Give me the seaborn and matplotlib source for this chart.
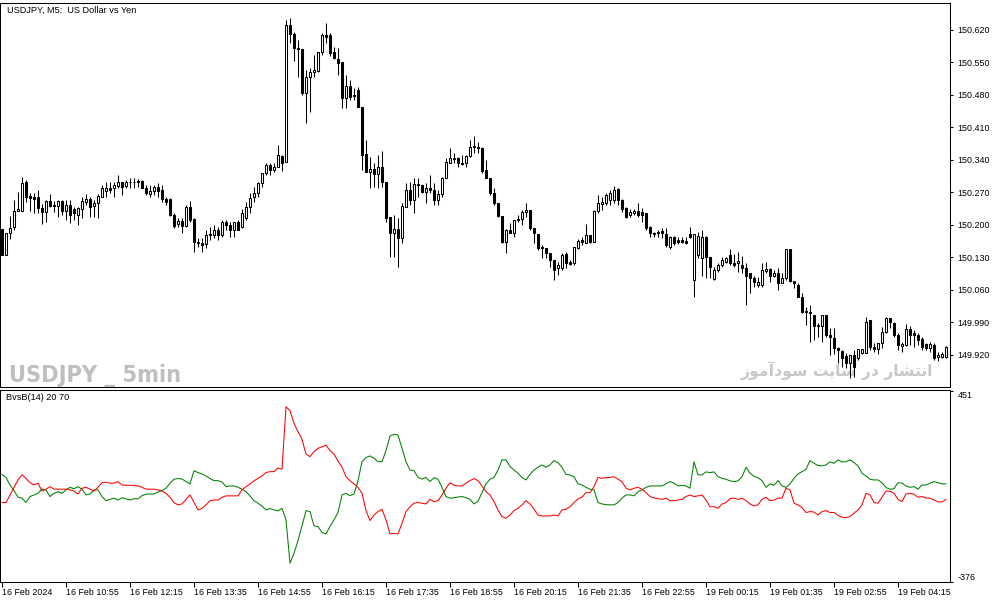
import numpy as np
import pandas as pd
import matplotlib
matplotlib.use('Agg')
import matplotlib.pyplot as plt
from matplotlib import font_manager
from matplotlib.font_manager import FontProperties
import seaborn as sns

# USDJPY M5, 16 Feb 2024 09:35 -> 19 Feb 2024 05:15 (one value per bar)
opens = [
    150.191, 150.135, 150.183, 150.196, 150.230, 150.230, 150.293, 150.262, 150.260, 150.260,
    150.237, 150.228, 150.252, 150.243, 150.241, 150.252, 150.230, 150.243, 150.234, 150.222,
    150.234, 150.250, 150.256, 150.241, 150.247, 150.260, 150.273, 150.280, 150.280, 150.284,
    150.293, 150.284, 150.293, 150.293, 150.295, 150.295, 150.280, 150.267, 150.273, 150.282,
    150.275, 150.256, 150.256, 150.222, 150.202, 150.209, 150.198, 150.239, 150.213, 150.163,
    150.161, 150.159, 150.178, 150.178, 150.189, 150.178, 150.206, 150.200, 150.189, 150.206,
    150.196, 150.215, 150.239, 150.260, 150.269, 150.290, 150.312, 150.329, 150.319, 150.325,
    150.349, 150.336, 150.631, 150.611, 150.581, 150.579, 150.484, 150.519, 150.530, 150.532,
    150.573, 150.609, 150.609, 150.573, 150.558, 150.551, 150.474, 150.499, 150.480, 150.491,
    150.454, 150.353, 150.314, 150.321, 150.310, 150.325, 150.293, 150.217, 150.183, 150.191,
    150.172, 150.239, 150.275, 150.254, 150.286, 150.286, 150.271, 150.280, 150.275, 150.254,
    150.267, 150.301, 150.334, 150.344, 150.344, 150.334, 150.334, 150.349, 150.370, 150.368,
    150.366, 150.319, 150.301, 150.269, 150.247, 150.219, 150.163, 150.189, 150.183, 150.213,
    150.213, 150.228, 150.232, 150.194, 150.181, 150.153, 150.151, 150.140, 150.125, 150.107,
    150.107, 150.138, 150.120, 150.118, 150.151, 150.168, 150.161, 150.178, 150.163, 150.230,
    150.245, 150.247, 150.254, 150.254, 150.278, 150.254, 150.237, 150.222, 150.226, 150.230,
    150.228, 150.226, 150.196, 150.183, 150.183, 150.187, 150.181, 150.153, 150.174, 150.168,
    150.168, 150.166, 150.181, 150.082, 150.135, 150.129, 150.174, 150.131, 150.084, 150.103,
    150.114, 150.120, 150.135, 150.118, 150.118, 150.114, 150.107, 150.097, 150.086, 150.071,
    150.071, 150.101, 150.105, 150.090, 150.097, 150.075, 150.086, 150.148, 150.079, 150.071,
    150.045, 150.015, 150.013, 150.006, 149.982, 149.982, 150.006, 149.963, 149.957, 149.935,
    149.929, 149.918, 149.903, 149.920, 149.913, 149.924, 149.924, 149.995, 149.937, 149.933,
    149.946, 149.970, 150.000, 149.989, 149.963, 149.939, 149.941, 149.976, 149.967, 149.963,
    149.954, 149.944, 149.935, 149.941, 149.916, 149.916, 149.916,
]
highs = [
    150.191, 150.183, 150.219, 150.254, 150.271, 150.303, 150.297, 150.269, 150.269, 150.275,
    150.245, 150.254, 150.267, 150.252, 150.254, 150.254, 150.254, 150.254, 150.239, 150.239,
    150.260, 150.267, 150.260, 150.254, 150.267, 150.286, 150.293, 150.293, 150.293, 150.308,
    150.293, 150.297, 150.301, 150.301, 150.299, 150.297, 150.286, 150.286, 150.286, 150.290,
    150.286, 150.260, 150.258, 150.226, 150.215, 150.215, 150.243, 150.252, 150.215, 150.172,
    150.172, 150.189, 150.196, 150.200, 150.196, 150.211, 150.211, 150.206, 150.206, 150.211,
    150.234, 150.250, 150.269, 150.282, 150.293, 150.312, 150.334, 150.334, 150.334, 150.372,
    150.351, 150.642, 150.646, 150.616, 150.598, 150.579, 150.534, 150.538, 150.566, 150.573,
    150.614, 150.635, 150.614, 150.583, 150.581, 150.551, 150.523, 150.512, 150.495, 150.497,
    150.454, 150.383, 150.346, 150.334, 150.351, 150.359, 150.293, 150.217, 150.222, 150.215,
    150.247, 150.290, 150.293, 150.301, 150.301, 150.286, 150.290, 150.308, 150.290, 150.275,
    150.303, 150.344, 150.366, 150.355, 150.346, 150.351, 150.351, 150.383, 150.392, 150.379,
    150.368, 150.340, 150.301, 150.280, 150.247, 150.219, 150.191, 150.204, 150.211, 150.222,
    150.232, 150.247, 150.232, 150.194, 150.181, 150.157, 150.151, 150.140, 150.125, 150.120,
    150.140, 150.142, 150.125, 150.153, 150.170, 150.174, 150.202, 150.178, 150.232, 150.265,
    150.260, 150.269, 150.275, 150.284, 150.280, 150.256, 150.239, 150.234, 150.234, 150.247,
    150.237, 150.226, 150.198, 150.185, 150.189, 150.194, 150.194, 150.176, 150.176, 150.174,
    150.174, 150.174, 150.196, 150.181, 150.185, 150.189, 150.176, 150.131, 150.110, 150.118,
    150.131, 150.131, 150.148, 150.138, 150.142, 150.133, 150.118, 150.097, 150.090, 150.088,
    150.118, 150.120, 150.107, 150.103, 150.107, 150.097, 150.148, 150.148, 150.079, 150.075,
    150.054, 150.023, 150.028, 150.006, 149.989, 150.006, 150.006, 149.978, 149.978, 149.937,
    149.931, 149.924, 149.920, 149.931, 149.933, 149.933, 150.002, 149.995, 149.946, 149.946,
    149.980, 150.002, 150.000, 149.991, 149.967, 149.948, 149.987, 149.982, 149.974, 149.967,
    149.959, 149.946, 149.948, 149.946, 149.926, 149.926, 149.939,
]
lows = [
    150.135, 150.135, 150.170, 150.189, 150.230, 150.230, 150.250, 150.230, 150.226, 150.226,
    150.202, 150.206, 150.239, 150.228, 150.217, 150.222, 150.211, 150.204, 150.211, 150.200,
    150.215, 150.243, 150.217, 150.217, 150.215, 150.260, 150.260, 150.269, 150.260, 150.280,
    150.265, 150.280, 150.280, 150.280, 150.282, 150.280, 150.265, 150.260, 150.265, 150.260,
    150.250, 150.243, 150.219, 150.194, 150.196, 150.183, 150.196, 150.206, 150.142, 150.153,
    150.142, 150.151, 150.168, 150.172, 150.168, 150.174, 150.189, 150.174, 150.174, 150.189,
    150.194, 150.211, 150.226, 150.250, 150.260, 150.282, 150.308, 150.308, 150.314, 150.325,
    150.316, 150.336, 150.592, 150.553, 150.519, 150.480, 150.420, 150.443, 150.519, 150.530,
    150.566, 150.592, 150.564, 150.558, 150.523, 150.452, 150.452, 150.469, 150.469, 150.454,
    150.319, 150.314, 150.280, 150.282, 150.280, 150.282, 150.206, 150.131, 150.131, 150.110,
    150.161, 150.239, 150.243, 150.226, 150.260, 150.269, 150.247, 150.269, 150.243, 150.243,
    150.260, 150.301, 150.334, 150.334, 150.325, 150.329, 150.325, 150.346, 150.355, 150.355,
    150.312, 150.301, 150.265, 150.243, 150.217, 150.161, 150.140, 150.183, 150.174, 150.206,
    150.200, 150.217, 150.189, 150.161, 150.146, 150.129, 150.129, 150.110, 150.082, 150.092,
    150.103, 150.107, 150.114, 150.114, 150.148, 150.157, 150.161, 150.161, 150.163, 150.226,
    150.232, 150.243, 150.243, 150.247, 150.243, 150.228, 150.215, 150.217, 150.222, 150.217,
    150.206, 150.189, 150.174, 150.174, 150.174, 150.172, 150.153, 150.148, 150.157, 150.159,
    150.161, 150.159, 150.172, 150.045, 150.129, 150.090, 150.086, 150.086, 150.082, 150.099,
    150.110, 150.118, 150.114, 150.110, 150.099, 150.097, 150.028, 150.054, 150.066, 150.066,
    150.066, 150.097, 150.077, 150.088, 150.060, 150.075, 150.082, 150.077, 150.064, 150.045,
    150.010, 149.985, 149.948, 149.952, 149.959, 149.948, 149.959, 149.920, 149.922, 149.903,
    149.894, 149.892, 149.871, 149.873, 149.909, 149.922, 149.924, 149.931, 149.926, 149.922,
    149.935, 149.967, 149.978, 149.959, 149.931, 149.926, 149.939, 149.941, 149.937, 149.941,
    149.931, 149.931, 149.926, 149.909, 149.907, 149.913, 149.913,
]
closes = [
    150.135, 150.183, 150.194, 150.230, 150.234, 150.290, 150.260, 150.258, 150.256, 150.237,
    150.228, 150.252, 150.241, 150.241, 150.252, 150.230, 150.243, 150.222, 150.226, 150.237,
    150.252, 150.256, 150.239, 150.247, 150.262, 150.280, 150.280, 150.275, 150.286, 150.293,
    150.282, 150.293, 150.293, 150.292, 150.293, 150.280, 150.269, 150.273, 150.282, 150.273,
    150.256, 150.250, 150.222, 150.198, 150.209, 150.198, 150.239, 150.211, 150.163, 150.161,
    150.157, 150.178, 150.181, 150.189, 150.178, 150.206, 150.200, 150.189, 150.206, 150.189,
    150.226, 150.239, 150.258, 150.269, 150.290, 150.312, 150.329, 150.319, 150.325, 150.351,
    150.334, 150.631, 150.611, 150.581, 150.579, 150.484, 150.519, 150.530, 150.534, 150.573,
    150.609, 150.605, 150.571, 150.560, 150.549, 150.474, 150.499, 150.476, 150.478, 150.454,
    150.351, 150.314, 150.321, 150.310, 150.325, 150.293, 150.215, 150.183, 150.191, 150.172,
    150.241, 150.275, 150.254, 150.288, 150.288, 150.271, 150.280, 150.275, 150.254, 150.267,
    150.301, 150.336, 150.344, 150.342, 150.334, 150.331, 150.349, 150.368, 150.368, 150.366,
    150.316, 150.301, 150.269, 150.247, 150.219, 150.163, 150.189, 150.183, 150.211, 150.211,
    150.228, 150.232, 150.194, 150.183, 150.151, 150.151, 150.140, 150.125, 150.103, 150.114,
    150.135, 150.118, 150.116, 150.153, 150.166, 150.163, 150.178, 150.163, 150.230, 150.247,
    150.250, 150.265, 150.269, 150.275, 150.254, 150.234, 150.217, 150.228, 150.230, 150.222,
    150.222, 150.194, 150.183, 150.181, 150.185, 150.183, 150.157, 150.174, 150.161, 150.163,
    150.163, 150.161, 150.174, 150.181, 150.176, 150.174, 150.131, 150.110, 150.103, 150.114,
    150.125, 150.129, 150.118, 150.114, 150.122, 150.107, 150.090, 150.086, 150.077, 150.077,
    150.103, 150.105, 150.090, 150.097, 150.075, 150.086, 150.148, 150.079, 150.075, 150.045,
    150.013, 150.013, 150.010, 149.982, 149.985, 150.006, 149.963, 149.959, 149.935, 149.931,
    149.913, 149.903, 149.920, 149.894, 149.933, 149.933, 149.991, 149.937, 149.933, 149.946,
    149.970, 150.000, 149.991, 149.963, 149.941, 149.944, 149.976, 149.963, 149.963, 149.952,
    149.937, 149.935, 149.944, 149.913, 149.920, 149.922, 149.937,
]

# BvsB(14) indicator, bulls (green) and bears (red)
bulls = [
    89, 76, 43, 19, -10, -14, -33, -7, 0, 7,
    26, 22, -7, 7, 14, 7, 22, 33, 27, 36,
    25, 0, 4, 22, 22, -7, -25, -19, -14, -22,
    -12, -17, -22, -16, -17, -3, 3, 4, 4, 13,
    19, 29, 51, 68, 71, 69, 58, 48, 105, 97,
    91, 82, 71, 62, 62, 56, 36, 39, 39, 33,
    25, 14, -4, -25, -36, -48, -65, -59, -65, -69,
    -58, -108, -296, -253, -198, -134, -68, -72, -134, -137,
    -163, -169, -137, -108, -76, 0, 7, -3, 4, 62,
    144, 162, 169, 159, 144, 144, 192, 255, 263, 260,
    202, 144, 108, 105, 76, 69, 76, 58, 75, 68,
    33, -7, -14, -12, -9, -7, -12, -19, -39, -27,
    10, 48, 68, 76, 108, 152, 152, 123, 108, 94,
    76, 65, 89, 108, 120, 130, 120, 130, 149, 140,
    120, 89, 87, 79, 48, 43, 33, 25, 22, -33,
    -39, -42, -43, -43, -33, -14, 0, 0, -4, 14,
    22, 33, 39, 39, 39, 39, 48, 58, 51, 39,
    42, 39, 29, 144, 87, 87, 100, 97, 100, 79,
    72, 68, 61, 58, 61, 79, 120, 94, 81, 75,
    62, 33, 48, 42, 62, 39, 33, 48, 72, 91,
    101, 111, 149, 137, 128, 126, 130, 144, 137, 152,
    143, 144, 152, 140, 126, 94, 82, 68, 65, 65,
    53, 32, 25, 27, 53, 51, 39, 33, 36, 25,
    43, 43, 51, 58, 53, 48, 48,
]
bears = [
    -33, -33, 0, 33, 65, 87, 72, 53, 43, 51,
    17, 25, 36, 25, 25, 25, 25, 22, 17, 4,
    29, 33, 25, 17, 33, 53, 55, 51, 51, 58,
    43, 42, 42, 42, 39, 33, 25, 25, 25, 22,
    17, 7, -10, -33, -43, -39, -19, 0, -33, -65,
    -58, -43, -25, -22, -22, -10, -4, -4, -4, -4,
    22, 36, 48, 61, 72, 82, 97, 101, 101, 117,
    111, 382, 365, 310, 274, 241, 177, 166, 188, 202,
    209, 216, 192, 177, 147, 120, 79, 62, 48, 33,
    7, -68, -111, -87, -72, -62, -108, -169, -166, -169,
    -123, -72, -51, -36, -33, -36, -39, -19, -29, -25,
    0, 29, 53, 42, 39, 39, 51, 62, 71, 62,
    39, 14, 0, -29, -65, -94, -101, -87, -68, -58,
    -43, -25, -39, -62, -87, -91, -91, -91, -87, -91,
    -65, -62, -51, -33, -17, -10, 10, 10, 36, 76,
    72, 75, 76, 79, 68, 58, 29, 22, 29, 33,
    25, 10, -7, -13, -16, -19, -14, -25, -25, -22,
    -19, -7, 0, -7, -4, 0, -22, -51, -51, -58,
    -39, -33, -16, -14, -19, -14, -25, -39, -48, -43,
    -19, -10, -25, -22, -14, -14, 29, 22, -36, -43,
    -55, -76, -72, -74, -87, -72, -68, -76, -76, -88,
    -97, -98, -94, -79, -65, -43, 7, 0, -33, -36,
    -10, 17, 16, 7, -19, -29, 4, 7, 3, -10,
    -7, -13, -14, -22, -30, -30, -19,
]

price_ticks = [150.620, 150.550, 150.480, 150.410, 150.340, 150.270,
               150.200, 150.130, 150.060, 149.990, 149.920]
ind_ticks = [451, -376]
time_tick_bars = [0, 16, 32, 48, 64, 80, 96, 112, 128, 144, 160, 176, 192, 208, 224]
time_tick_labels = ['16 Feb 2024', '16 Feb 10:55', '16 Feb 12:15', '16 Feb 13:35',
                    '16 Feb 14:55', '16 Feb 16:15', '16 Feb 17:35', '16 Feb 18:55',
                    '16 Feb 20:15', '16 Feb 21:35', '16 Feb 22:55', '19 Feb 00:15',
                    '19 Feb 01:35', '19 Feb 02:55', '19 Feb 04:15']

title = 'USDJPY, M5:  US Dollar vs Yen'
ind_name = 'BvsB(14) 20 70'
mark_en = 'USDJPY _ 5min'
# "انتشار در سایت سودآموز" written in shaped presentation forms, visual order
mark_fa = '\uFEAF\uFEEE\uFEE3\uFE81\uFEA9\uFEEE\uFEB3 \uFE96\uFBFE\uFE8E\uFEB3 \uFEAD\uFEA9 \uFEAD\uFE8E\uFEB8\uFE98\uFEE7\uFE8D'

sns.set_theme(style='white')
plt.rcParams['font.family'] = ['Liberation Sans', 'DejaVu Sans']
plt.rcParams['axes.unicode_minus'] = False

# a narrow bold face for the watermark, if one is installed
def pick_narrow():
    order = ['ultra-condensed', 'extra-condensed', 'condensed', 'semi-condensed']
    best = None
    for f in font_manager.fontManager.ttflist:
        st = str(f.stretch)
        w = f.weight if isinstance(f.weight, int) else 700 if 'bold' in str(f.weight) else 400
        narrowish = st in order or 'Narrow' in f.name or 'Condensed' in f.name
        if narrowish and w >= 700 and 'Italic' not in f.fname and 'Oblique' not in f.fname:
            rank = order.index(st) if st in order else 2
            if best is None or rank < best[0]:
                best = (rank, f.fname)
    if best:
        return FontProperties(fname=best[1])
    return FontProperties(family='Liberation Sans', weight='bold')

df = pd.DataFrame({'bar': np.arange(len(closes)), 'open': opens, 'high': highs,
                   'low': lows, 'close': closes, 'bulls': bulls, 'bears': bears})

W, H = 1003, 603
fig = plt.figure(figsize=(W / 100, H / 100), dpi=100)
fig.patch.set_facecolor('white')

def rect(x0, y0, x1, y1):
    return [x0 / W, 1 - y1 / H, (x1 - x0) / W, (y1 - y0) / H]

ax = fig.add_axes(rect(0.5, 3, 950, 386.5))
ax2 = fig.add_axes(rect(0.5, 389.5, 950, 581.7), sharex=ax)

lw = 0.75
up = df[df['close'] >= df['open']]
dn = df[df['close'] < df['open']]
ax.vlines(df['bar'], df['low'], df['high'], color='black', linewidth=lw, zorder=2)
ax.bar(up['bar'], up['close'] - up['open'], bottom=up['open'], width=0.5,
       color='white', edgecolor='black', linewidth=lw, zorder=3)
ax.bar(dn['bar'], dn['close'] - dn['open'], bottom=dn['open'], width=0.5,
       color='black', edgecolor='black', linewidth=lw, zorder=3)

ax.set_xlim(-0.375, 237)
ax.set_ylim(149.852, 150.678)
ax.yaxis.tick_right()
ax.set_yticks(price_ticks)
ax.set_yticklabels([f'{v:.3f}' for v in price_ticks])
ax.tick_params(axis='y', which='both', right=True, left=False, direction='out',
               length=2.5, width=0.75, pad=3, labelsize=6.4, colors='black')
ax.tick_params(axis='x', bottom=False, labelbottom=False)
ax.set_xlabel('')
ax.set_ylabel('')

ax.text(0.0068, 0.9817, title, transform=ax.transAxes, fontsize=6.6,
        va='center', ha='left', color='black')

wm_en = ax.text(0.009, 0.0117, mark_en, transform=ax.transAxes,
                fontproperties=pick_narrow(), color='#bfbfbf', va='baseline',
                ha='left', zorder=1)
wm_en.set_fontsize(24)
wm_fa = ax.text(0.9821, 0.043, mark_fa, transform=ax.transAxes, fontsize=14,
                fontweight='bold', family=['DejaVu Sans'], color='#c8c8c8',
                va='center', ha='right', zorder=1)

sns.lineplot(data=df, x='bar', y='bulls', color='#008000', linewidth=lw, ax=ax2)
sns.lineplot(data=df, x='bar', y='bears', color='#ff0000', linewidth=lw, ax=ax2)
ax2.set_ylim(-376, 457)
ax2.yaxis.tick_right()
ax2.set_yticks(ind_ticks)
ax2.set_yticklabels([str(v) for v in ind_ticks])
ylabs = ax2.get_yticklabels()
ylabs[0].set_va('top')
ylabs[1].set_va('bottom')
ax2.tick_params(axis='y', right=True, left=False, direction='out', length=2.5,
                width=0.75, pad=3, labelsize=6.4, colors='black')
ax2.set_xticks(time_tick_bars)
ax2.set_xticklabels(time_tick_labels, ha='left')
ax2.tick_params(axis='x', bottom=True, direction='out', length=3.6, width=0.75,
                pad=1, labelsize=6.4, colors='black')
ax2.set_xlabel('')
ax2.set_ylabel('')
ax2.text(0.0058, 0.9558, ind_name, transform=ax2.transAxes, fontsize=6.6,
         va='center', ha='left', color='black')

for a in (ax, ax2):
    a.set_facecolor('white')
    a.grid(False)
    for s in a.spines.values():
        s.set_visible(True)
        s.set_color('black')
        s.set_linewidth(lw)

# size the two watermarks to the width they take in the screenshot
fig.canvas.draw()
r = fig.canvas.get_renderer()
for t, target in ((wm_en, 172.0), (wm_fa, 194.0)):
    w = t.get_window_extent(r).width
    t.set_fontsize(t.get_fontsize() * target / w)

fig.savefig('out.png', dpi=100, facecolor='white')
